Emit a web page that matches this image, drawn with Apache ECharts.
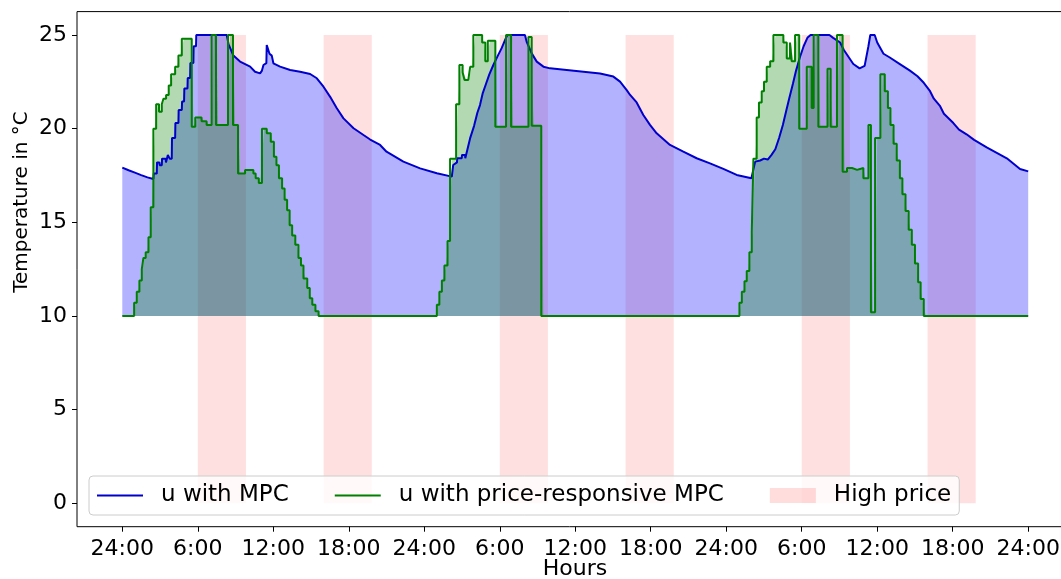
<!DOCTYPE html>
<html>
<head>
<meta charset="utf-8">
<script src="https://cdn.jsdelivr.net/npm/echarts@6/dist/echarts.min.js"></script>
<style>
  html, body { margin: 0; padding: 0; background: #fff; }
  #chart { width: 1061px; height: 579px; }
</style>
</head>
<body>
<div id="chart"></div>
<script>
// Hours since the start of the simulation and their clock labels
const tickHours = [0, 6, 12, 18, 24, 30, 36, 42, 48, 54, 60, 66, 72];
const tickLabels = ['24:00', '6:00', '12:00', '18:00', '24:00', '6:00', '12:00',
                    '18:00', '24:00', '6:00', '12:00', '18:00', '24:00'];
const tempTicks = [0, 5, 10, 15, 20, 25];

// Periods with a high electricity price [start hour, end hour]
const highPricePeriods = [[6, 9.83], [16, 19.83], [30, 33.83], [40, 43.83], [54, 57.83], [64, 67.83]];
const highPriceLevel = [0, 25];

// Room temperature setpoint u with the standard MPC [hour, °C]
const uMpc = [
  [0, 17.92], [0.5, 17.78], [1.0, 17.65], [1.5, 17.52], [2.0, 17.4], [2.47, 17.31],
  [2.5, 17.6], [2.74, 17.6], [2.76, 18.2], [2.95, 18.2], [2.97, 18.05], [3.14, 18.05],
  [3.16, 18.4], [3.45, 18.4], [3.47, 18.2], [3.6, 18.2], [3.62, 18.6], [3.75, 18.6],
  [3.77, 18.4], [3.93, 18.4], [3.95, 19.5], [4.2, 19.5], [4.22, 20.3], [4.46, 20.3],
  [4.48, 21.0], [4.73, 21.0], [4.75, 21.45], [4.91, 21.45], [4.93, 22.15], [5.18, 22.15],
  [5.2, 22.7], [5.39, 22.7], [5.41, 23.5], [5.65, 23.5], [5.67, 24.4], [5.86, 24.4],
  [5.88, 25], [8.3, 25], [8.45, 24.5], [8.83, 23.9], [9.36, 23.58], [10.16, 23.31],
  [10.55, 23.04], [10.95, 22.95], [11.1, 23.1], [11.22, 23.4], [11.45, 23.5], [11.48, 24.47],
  [11.62, 24.4], [11.7, 24.0], [11.88, 23.9], [12.01, 23.49], [12.54, 23.31], [13.34, 23.13],
  [14.13, 23.04], [14.93, 22.92], [15.46, 22.69], [15.99, 22.24], [16.52, 21.7], [17.05, 21.09],
  [17.58, 20.55], [18.38, 20.02], [19.17, 19.66], [19.7, 19.42], [20.49, 19.13], [21.0, 18.77],
  [22.34, 18.24], [23.67, 17.88], [25.0, 17.62], [26.19, 17.44],
  [26.3, 18.06], [26.6, 18.2], [26.62, 18.42], [26.98, 18.42], [27.0, 18.6], [27.24, 18.6],
  [27.26, 18.42], [27.38, 18.5], [27.64, 19.48], [27.96, 20.15], [28.22, 20.85], [28.43, 21.26],
  [28.65, 21.9], [28.91, 22.4], [29.17, 22.9], [29.49, 23.4], [29.85, 23.9], [30.15, 24.3],
  [30.4, 24.7], [30.6, 25.0], [32.0, 25.0],
  [32.14, 24.64], [32.54, 24.02], [32.94, 23.58], [33.47, 23.31], [34.0, 23.22], [35.32, 23.13],
  [36.65, 23.04], [37.97, 22.95], [39.03, 22.78], [39.56, 22.51], [40.09, 22.06], [40.36, 21.8],
  [40.88, 21.4], [41.41, 20.73], [41.94, 20.2], [42.47, 19.75], [43.53, 19.13], [44.59, 18.77],
  [45.65, 18.42], [46.71, 18.15], [47.77, 17.85], [48.83, 17.53], [50.0, 17.35],
  [50.3, 18.24], [50.7, 18.3], [51.0, 18.4], [51.3, 18.35], [51.6, 18.6], [51.9, 18.9],
  [52.2, 19.5], [52.5, 20.2], [52.75, 20.9], [53.0, 21.6], [53.3, 22.4], [53.55, 23.1],
  [53.85, 23.8], [54.15, 24.4], [54.45, 24.85], [54.7, 25.0], [56.2, 25.0], [56.5, 24.85],
  [57.05, 24.6], [57.35, 24.2], [57.75, 23.8], [58.1, 23.45], [58.6, 23.22], [59.0, 23.35],
  [59.3, 24.4], [59.45, 25.0], [59.8, 25.0], [60.0, 24.6], [60.5, 24.0], [61.0, 23.8],
  [61.8, 23.45], [62.6, 23.1], [63.2, 22.8], [63.7, 22.45], [64.2, 22.0], [64.5, 21.6],
  [65.0, 21.2], [65.3, 20.8], [66.05, 20.3], [66.5, 19.95], [67.1, 19.7], [67.7, 19.4],
  [68.7, 19.0], [70.3, 18.42], [71.35, 17.85], [72, 17.72]
];

// Setpoint u with the price-responsive MPC: [hour the level starts, °C]
const uPriceResponsive = [
  [0, 10], [0.94, 10.7], [1.15, 11.3], [1.36, 11.9], [1.55, 12.5], [1.68, 13.1],
  [1.86, 13.4], [2.08, 14.2], [2.26, 15.8], [2.47, 20.0], [2.69, 21.3], [2.92, 20.9],
  [3.14, 21.3], [3.27, 21.6], [3.48, 21.8], [3.69, 22.3], [3.88, 22.9], [4.2, 23.3],
  [4.46, 23.9], [4.73, 24.8], [5.52, 20.1], [5.8, 20.6], [6.3, 20.4], [6.7, 20.2],
  [7.1, 25], [7.45, 20.2], [8.4, 25], [8.8, 20.2], [9.2, 17.6], [9.76, 17.8],
  [10.42, 17.6], [10.6, 17.35], [10.85, 17.1], [11.1, 20.0], [11.48, 19.75], [11.8, 19.3],
  [12.05, 18.5], [12.25, 18.05], [12.45, 17.35], [12.7, 16.8], [12.9, 16.2], [13.1, 15.65],
  [13.3, 14.85], [13.5, 14.3], [13.75, 13.8], [14.0, 13.1], [14.2, 12.7], [14.4, 12.0],
  [14.7, 11.5], [14.9, 10.95], [15.1, 10.6], [15.35, 10.25], [15.6, 10],
  [25.0, 10.6], [25.2, 11.3], [25.4, 11.9], [25.6, 12.7], [25.85, 14.0], [26.05, 18.4],
  [26.53, 21.3], [26.79, 23.4], [27.05, 23.0], [27.2, 22.6], [27.5, 22.7], [27.65, 23.3],
  [27.9, 25.0], [28.6, 24.6], [28.85, 23.6], [29.05, 24.7], [29.65, 20.1], [30.5, 25],
  [30.9, 20.1], [32.28, 24.9], [32.54, 20.15], [33.3, 10],
  [49.05, 10.7], [49.24, 11.3], [49.45, 11.85], [49.63, 12.4], [49.84, 13.4], [50.03, 14.5],
  [50.16, 18.4], [50.42, 20.6], [50.6, 21.4], [50.82, 22.0], [51.0, 22.5], [51.22, 23.3],
  [51.49, 23.6], [51.75, 25.0], [52.54, 24.6], [52.81, 23.75], [53.07, 24.6], [53.2, 23.6],
  [53.47, 25], [53.8, 20.0], [54.4, 23.3], [54.79, 21.1], [54.95, 25], [55.32, 20.1],
  [56.05, 23.2], [56.3, 20.1], [56.8, 25], [57.25, 17.7], [57.6, 17.9], [58.0, 17.8],
  [58.4, 17.9], [58.9, 17.35], [59.3, 20.2], [59.5, 10.2], [59.83, 19.5], [60.25, 22.9],
  [60.6, 22.0], [60.85, 21.1], [61.05, 20.2], [61.3, 19.2], [61.55, 18.3], [61.8, 17.35],
  [62.0, 16.5], [62.25, 15.6], [62.5, 14.6], [62.75, 13.8], [63.0, 12.8], [63.25, 11.8],
  [63.45, 10.9], [63.7, 10], [72, 10]
];

const SAMPLE = 1 / 6;      // controller sampling interval, hours
const FILL_BASE = 10;      // lower bound of the shaded band under each setpoint

// The shading is interpolated linearly between samples, so each level change
// ramps over one sampling interval instead of jumping like the step line.
function sampledFill(steps) {
  const out = [steps[0]];
  for (let i = 1; i < steps.length; i++) {
    const t = steps[i][0], v = steps[i][1], prev = steps[i - 1][1];
    if (i === steps.length - 1) { out.push([t, v]); break; }
    const d = Math.min(SAMPLE, (steps[i + 1][0] - t) / 2);
    out.push([t, prev], [t + d, v]);
  }
  return out;
}

const FONT = 'DejaVu Sans';
const BLUE = '#0000cc';
const GREEN = '#008000';
const labelFor = v => {
  const i = tickHours.findIndex(h => Math.abs(h - v) < 1e-6);
  return i >= 0 ? tickLabels[i] : '';
};
const lineIcon = 'path://M0,0H46V2H0Z';

const chart = echarts.init(document.getElementById('chart'), null, { renderer: 'canvas' });
chart.setOption({
  animation: false,
  grid: {
    left: 77, top: 11.6, right: -12.5, bottom: 52.3,
    outerBoundsMode: 'none', containLabel: false,
    show: true, borderColor: '#000', borderWidth: 1, backgroundColor: 'transparent'
  },
  xAxis: {
    type: 'value', min: -3.6, max: 75.6,
    axisLine: { show: false, onZero: false },
    splitLine: { show: false },
    axisTick: { show: true, customValues: tickHours, length: 5, lineStyle: { color: '#000', width: 1 } },
    axisLabel: { customValues: tickHours, formatter: labelFor, fontSize: 22, color: '#000', margin: 12, fontFamily: FONT }
  },
  yAxis: {
    type: 'value', min: -1.25, max: 26.25,
    axisLine: { show: false, onZero: false },
    splitLine: { show: false },
    axisTick: { show: true, customValues: tempTicks, length: 5, lineStyle: { color: '#000', width: 1 } },
    axisLabel: { customValues: tempTicks, fontSize: 22, color: '#000', margin: 10, fontFamily: FONT }
  },
  legend: {
    left: 89, top: 476,
    padding: [8, 8],
    itemWidth: 46, itemHeight: 15, itemGap: 46,
    backgroundColor: 'rgba(255,255,255,0.8)', borderColor: '#cccccc', borderWidth: 1, borderRadius: 4,
    textStyle: { fontSize: 23, color: '#000', fontFamily: FONT, padding: [0, 0, 0, 13] },
    data: [
      { name: 'u with MPC', icon: lineIcon },
      { name: 'u with price-responsive MPC', icon: lineIcon },
      { name: 'High price', icon: 'rect', itemStyle: { color: 'rgba(255,0,0,0.17)' } }
    ]
  },
  graphic: [
    { type: 'text', x: 22, y: 202, rotation: Math.PI / 2,
      style: { text: 'Temperature in °C', fontSize: 20, fontFamily: FONT, fill: '#000', align: 'center', verticalAlign: 'middle' } },
    { type: 'text', x: 575, y: 569,
      style: { text: 'Hours', fontSize: 22, fontFamily: FONT, fill: '#000', align: 'center', verticalAlign: 'middle' } }
  ],
  series: [
    {
      name: 'mpc-shade', type: 'line', data: uMpc, symbol: 'none', silent: true, z: 1,
      lineStyle: { width: 0, opacity: 0 },
      areaStyle: { color: 'rgba(0,0,255,0.3)', opacity: 1, origin: FILL_BASE }
    },
    {
      name: 'price-shade', type: 'line', data: sampledFill(uPriceResponsive), symbol: 'none', silent: true, z: 2,
      lineStyle: { width: 0, opacity: 0 },
      areaStyle: { color: 'rgba(0,128,0,0.3)', opacity: 1, origin: FILL_BASE }
    },
    {
      name: 'u with MPC', type: 'line', data: uMpc, symbol: 'none', z: 3,
      color: BLUE, lineStyle: { color: BLUE, width: 2 }
    },
    {
      name: 'u with price-responsive MPC', type: 'line', step: 'end', data: uPriceResponsive, symbol: 'none', z: 4,
      color: GREEN, lineStyle: { color: GREEN, width: 2 }
    },
    {
      name: 'High price', type: 'scatter', data: [], z: 5,
      color: 'rgba(255,0,0,0.12)',
      markArea: {
        silent: true,
        itemStyle: { color: 'rgba(255,0,0,0.12)' },
        data: highPricePeriods.map(([a, b]) => [
          { xAxis: a, yAxis: highPriceLevel[0] },
          { xAxis: b, yAxis: highPriceLevel[1] }
        ])
      }
    }
  ]
});
</script>
</body>
</html>
